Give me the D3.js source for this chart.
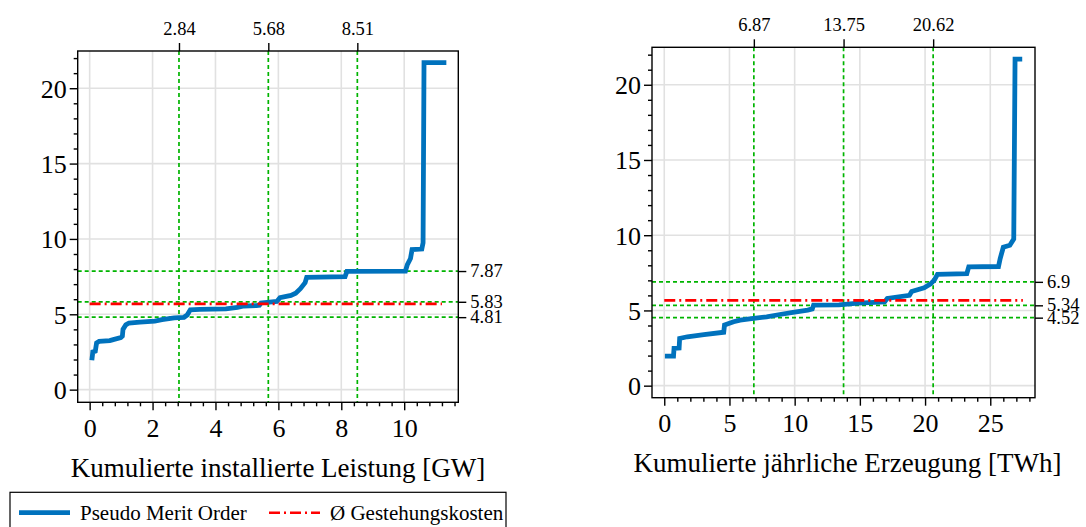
<!DOCTYPE html>
<html><head><meta charset="utf-8">
<script src="https://cdn.jsdelivr.net/npm/d3@7"></script>
<style>
html,body{margin:0;padding:0;background:#fff;}
svg{display:block;}
svg text{font-family:"Liberation Serif","Times New Roman",Times,serif !important;}
</style></head>
<body>
<svg id="chart" width="1086" height="527"></svg>
<script>
// ---------- DATA ----------
// Left panel: cumulative installed capacity [GW] vs. cost
const leftX = [0.07,0.1,0.18,0.22,0.3,0.64,0.75,0.99,1.04,1.06,1.15,1.25,1.6,2.07,2.3,2.69,3.0,3.1,3.2,3.5,4.33,4.7,4.9,5.3,5.4,5.45,5.95,6.05,6.4,6.55,6.7,6.85,6.9,8.12,8.18,10.04,10.1,10.2,10.25,10.56,10.6,10.63,11.34];
const leftY = [1.95,2.5,2.55,3.1,3.2,3.25,3.32,3.45,3.55,4.0,4.3,4.42,4.48,4.55,4.65,4.76,4.8,4.95,5.3,5.32,5.36,5.45,5.55,5.58,5.6,5.75,5.85,6.1,6.25,6.4,6.7,7.1,7.45,7.5,7.85,7.87,8.3,8.7,9.3,9.33,9.75,21.7,21.7];
const leftQuantileTicks = [2.84, 5.68, 8.51];
const leftQuantileLabels = ["2.84", "5.68", "8.51"];
const leftLevelTicks = [7.87, 5.83, 4.81];
const leftLevelLabels = ["7.87", "5.83", "4.81"];
const leftMean = 5.69;
const leftMeanEnd = 11.2;
const leftXTicks = [0, 2, 4, 6, 8, 10];
const leftTitle = "Kumulierte installierte Leistung [GW]";

// Right panel: cumulative annual generation [TWh] vs. cost
const rightX = [0.05,0.71,0.75,1.14,1.18,1.77,3.04,4.56,4.62,5.32,5.82,6.84,7.85,8.86,9.87,11.0,11.35,11.45,13.4,14.87,16.9,17.1,18.8,18.97,19.93,20.4,20.7,20.95,23.2,23.35,25.63,25.76,26.0,26.5,26.8,26.9,27.45];
const rightY = [1.97,1.97,2.48,2.5,3.14,3.25,3.4,3.55,4.03,4.25,4.36,4.47,4.58,4.73,4.87,5.02,5.1,5.35,5.37,5.48,5.57,5.8,6.0,6.26,6.5,6.75,7.0,7.4,7.45,7.9,7.92,8.45,9.2,9.33,9.75,21.7,21.7];
const rightQuantileTicks = [6.87, 13.75, 20.62];
const rightQuantileLabels = ["6.87", "13.75", "20.62"];
const rightLevelTicks = [6.9, 5.34, 4.52];
const rightLevelLabels = ["6.9", "5.34", "4.52"];
const rightMean = 5.67;
const rightMeanEnd = 27.5;
const rightXTicks = [0, 5, 10, 15, 20, 25];
const rightTitle = "Kumulierte jährliche Erzeugung [TWh]";

const yTicks = [0, 5, 10, 15, 20];
const legendLabels = ["Pseudo Merit Order", "Ø Gestehungskosten"];

// ---------- STYLE ----------
const BLUE = "#0072bd", RED = "#ff0000", GREEN = "#00b400", GRID = "#e1e1e1";
const svg = d3.select("#chart");

function panel(o) {
  const x = d3.scaleLinear().domain(o.xDomain).range([o.left, o.right]);
  const y = d3.scaleLinear().domain(o.yDomain).range([o.bottom, o.top]);
  const g = svg.append("g");

  // grid
  g.selectAll(".gx").data(o.xTicks).join("line")
    .attr("x1", d => x(d)).attr("x2", d => x(d)).attr("y1", o.top).attr("y2", o.bottom)
    .attr("stroke", GRID).attr("stroke-width", 1.6);
  g.selectAll(".gy").data(yTicks).join("line")
    .attr("y1", d => y(d)).attr("y2", d => y(d)).attr("x1", o.left).attr("x2", o.right)
    .attr("stroke", GRID).attr("stroke-width", 1.6);

  // green quantile lines
  g.selectAll(".qv").data(o.qTicks).join("line")
    .attr("x1", d => x(d)).attr("x2", d => x(d)).attr("y1", o.top).attr("y2", o.bottom)
    .attr("stroke", GREEN).attr("stroke-width", 1.7).attr("stroke-dasharray", "4,3");
  g.selectAll(".qh").data(o.lTicks).join("line")
    .attr("y1", d => y(d)).attr("y2", d => y(d)).attr("x1", o.left).attr("x2", o.right)
    .attr("stroke", GREEN).attr("stroke-width", 1.7).attr("stroke-dasharray", "4,3");

  // blue curve
  const pts = o.xs.map((v, i) => [v, o.ys[i]]);
  g.append("path").datum(pts)
    .attr("d", d3.line().x(d => x(d[0])).y(d => y(d[1])))
    .attr("fill", "none").attr("stroke", BLUE).attr("stroke-width", 4.8)
    .attr("stroke-linejoin", "miter");

  // red mean line
  g.append("line")
    .attr("x1", x(0)).attr("x2", x(o.meanEnd)).attr("y1", y(o.mean)).attr("y2", y(o.mean))
    .attr("stroke", RED).attr("stroke-width", 2.6).attr("stroke-dasharray", "11,4,2,4");

  // box
  g.append("rect").attr("x", o.left).attr("y", o.top)
    .attr("width", o.right - o.left).attr("height", o.bottom - o.top)
    .attr("fill", "none").attr("stroke", "#000").attr("stroke-width", 1.4);

  // bottom axis
  const minorX = d3.range(o.xMinorStep, o.xDomain[1], o.xMinorStep)
    .filter(v => !o.xTicks.some(t => Math.abs(t - v) < 1e-6));
  const bx = g.append("g").attr("transform", `translate(0,${o.bottom})`)
    .call(d3.axisBottom(x).tickValues(o.xTicks).tickFormat(d3.format("d")).tickSize(8).tickPadding(8));
  g.append("g").attr("transform", `translate(0,${o.bottom})`)
    .call(d3.axisBottom(x).tickValues(minorX).tickFormat("").tickSize(4));
  // left axis
  const minorY = d3.range(1, o.yDomain[1], 1).filter(v => v % 5 !== 0);
  const ly = g.append("g").attr("transform", `translate(${o.left},0)`)
    .call(d3.axisLeft(y).tickValues(yTicks).tickFormat(d3.format("d")).tickSize(8).tickPadding(3));
  g.append("g").attr("transform", `translate(${o.left},0)`)
    .call(d3.axisLeft(y).tickValues(minorY).tickFormat("").tickSize(4));
  // top axis
  const tx = g.append("g").attr("transform", `translate(0,${o.top})`)
    .call(d3.axisTop(x).tickValues(o.qTicks).tickFormat((d, i) => o.qLabels[i]).tickSize(8).tickPadding(8));
  // right axis
  const ry = g.append("g").attr("transform", `translate(${o.right},0)`)
    .call(d3.axisRight(y).tickValues(o.lTicks).tickFormat((d, i) => o.lLabels[i]).tickSize(8).tickPadding(4));

  g.selectAll(".domain").remove();
  g.selectAll(".tick line").attr("stroke", "#000").attr("stroke-width", 1.4);
  g.selectAll(".tick text").attr("fill", "#000");
  bx.selectAll("text").attr("font-size", 26);
  ly.selectAll("text").attr("font-size", 26).attr("dy", "0.34em");
  tx.selectAll("text").attr("font-size", 18.5);
  ry.selectAll("text").attr("font-size", 18.5).attr("dy", "0.3em");

  g.append("text").attr("x", (o.left + o.right) / 2 + o.titleShift).attr("y", o.bottom + 74.5)
    .attr("text-anchor", "middle").attr("font-size", 27).attr("fill", "#000")
    .text(o.title);
}

panel({xDomain: [-0.38, 11.72], yDomain: [-0.84, 22.47], left: 77.7, right: 458.3, top: 51, bottom: 402.3,
  xTicks: leftXTicks, xMinorStep: 0.4, xs: leftX, ys: leftY, qTicks: leftQuantileTicks, qLabels: leftQuantileLabels,
  lTicks: leftLevelTicks, lLabels: leftLevelLabels, mean: leftMean, meanEnd: leftMeanEnd, title: leftTitle, titleShift: 10});

panel({xDomain: [-0.94, 28.43], yDomain: [-0.8, 22.49], left: 652, right: 1035, top: 47.3, bottom: 397.7,
  xTicks: rightXTicks, xMinorStep: 1, xs: rightX, ys: rightY, qTicks: rightQuantileTicks, qLabels: rightQuantileLabels,
  lTicks: rightLevelTicks, lLabels: rightLevelLabels, mean: rightMean, meanEnd: rightMeanEnd, title: rightTitle, titleShift: 4});

// legend
const lg = svg.append("g");
lg.append("rect").attr("x", 10).attr("y", 492.3).attr("width", 496).attr("height", 50)
  .attr("fill", "#fff").attr("stroke", "#000").attr("stroke-width", 1.2);
lg.append("line").attr("x1", 19).attr("x2", 70).attr("y1", 512.7).attr("y2", 512.7)
  .attr("stroke", BLUE).attr("stroke-width", 4.8);
lg.append("text").attr("x", 80).attr("y", 519.5).attr("font-size", 21).text(legendLabels[0]);
lg.append("line").attr("x1", 269).attr("x2", 320).attr("y1", 512.7).attr("y2", 512.7)
  .attr("stroke", RED).attr("stroke-width", 2.6).attr("stroke-dasharray", "11,4,2,4");
lg.append("text").attr("x", 330).attr("y", 519.5).attr("font-size", 21).text(legendLabels[1]);
</script>
</body></html>
